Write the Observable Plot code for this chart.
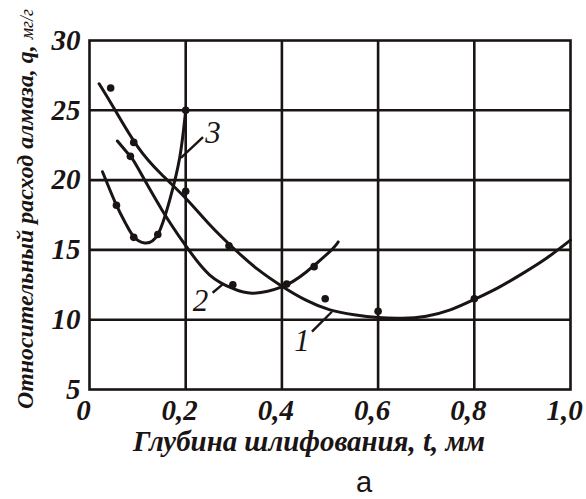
<!DOCTYPE html>
<html><head><meta charset="utf-8">
<script src="https://cdn.jsdelivr.net/npm/d3@7"></script>
<script src="https://cdn.jsdelivr.net/npm/@observablehq/plot@0.6"></script>
</head><body style="margin:0;background:#fff">
<div id="c" style="font-family:'Liberation Serif';font-weight:bold;font-style:italic"></div>
<script>
const curve1 = [[0.02,26.9],[0.05,25.2],[0.1,22.4],[0.15,20.4],[0.2,18.7],[0.25,16.8],[0.3,15.1],[0.35,13.6],[0.4,12.4],[0.45,11.4],[0.5,10.7],[0.55,10.35],[0.6,10.15],[0.65,10.1],[0.7,10.25],[0.75,10.7],[0.8,11.45],[0.85,12.3],[0.9,13.3],[0.95,14.4],[1.0,15.7]];
const curve2 = [[0.058,22.8],[0.085,21.7],[0.1,20.9],[0.15,17.9],[0.2,15.3],[0.25,13.2],[0.3,12.2],[0.34,11.9],[0.4,12.35],[0.45,13.4],[0.5,14.9],[0.517,15.57]];
const curve3 = [[0.027,20.6],[0.056,18.2],[0.075,16.9],[0.092,15.95],[0.115,15.5],[0.142,16.1],[0.167,18.6],[0.1875,21.6],[0.2,25.0]];
const dots1 = [[0.044,26.6],[0.092,22.7],[0.2,19.2],[0.29,15.3],[0.49,11.5],[0.6,10.6],[0.8,11.5]];
const dots2 = [[0.085,21.7],[0.298,12.5],[0.41,12.55],[0.467,13.8]];
const dots3 = [[0.056,18.2],[0.092,15.9],[0.142,16.1],[0.2,25.0]];
const curveLabels = [{t:"1",x:0.442,y:8.5},{t:"2",x:0.231,y:11.3},{t:"3",x:0.257,y:23.4}];
const leaders = [{x1:0.4625,y1:9.14,x2:0.504,y2:10.57},{x1:0.256,y1:11.93,x2:0.278,y2:12.57},{x1:0.19,y1:21.6,x2:0.236,y2:23.07}];
const xTicks = [0,0.2,0.4,0.6,0.8,1.0];
const yTicks = [5,10,15,20,25,30];
const xLabel = "Глубина шлифования, t, мм";
const yLabelMain = "Относительный расход алмаза, q, ";
const yLabelUnit = "мг/г";
const panelLetter = "а";

const SERIF = "Liberation Serif";
const SANS = "Liberation Sans";
const INK = "#1a1414";
const fmt = d => d === 0 ? "0" : d3.format(".1f")(d).replace(".", ",");
const toObj = a => a.map(([x,y]) => ({x,y}));

const plot = Plot.plot({
  width: 586, height: 499,
  marginLeft: 89, marginRight: 16, marginTop: 40, marginBottom: 110,
  style: {fontFamily: SERIF, background: "#fff"},
  x: {domain: [0,1], ticks: xTicks, label: null},
  y: {domain: [5,30], ticks: yTicks, label: null},
  marks: [
    Plot.gridX(xTicks.slice(1,-1), {stroke: INK, strokeOpacity: 1, strokeWidth: 2.6}),
    Plot.gridY(yTicks.slice(1,-1), {stroke: INK, strokeOpacity: 1, strokeWidth: 2.6}),
    Plot.frame({stroke: INK, strokeWidth: 2.6}),
    Plot.axisX({ticks: xTicks, tickSize: 0, tickPadding: 10, tickFormat: fmt, dx: -6,
      fontFamily: SERIF, fontSize: 29, fontWeight: "bold", fontStyle: "italic", fill: INK, label: null}),
    Plot.axisY({ticks: yTicks, tickSize: 0, tickPadding: 9, tickFormat: d => String(d),
      fontFamily: SERIF, fontSize: 29, fontWeight: "bold", fontStyle: "italic", fill: INK, label: null}),
    Plot.line(toObj(curve1), {x:"x", y:"y", curve:"natural", stroke: INK, strokeWidth:3}),
    Plot.line(toObj(curve2), {x:"x", y:"y", curve:"natural", stroke: INK, strokeWidth:3}),
    Plot.line(toObj(curve3), {x:"x", y:"y", curve:"natural", stroke: INK, strokeWidth:3}),
    Plot.dot(toObj([...dots1, ...dots2, ...dots3]), {x:"x", y:"y", r:3.8, fill: INK, stroke:"none"}),
    Plot.link(leaders, {x1:"x1", y1:"y1", x2:"x2", y2:"y2", stroke: INK, strokeWidth:2.4}),
    Plot.text(curveLabels, {x:"x", y:"y", text:"t", fontFamily: SERIF, fontSize: 31, fontStyle:"italic", fontWeight: "normal", fill: INK})
  ]
});
document.getElementById("c").appendChild(plot);

const svg = d3.select(plot);
// y-axis title
const yt = svg.append("text")
  .attr("transform", "translate(33,209) rotate(-90)")
  .attr("text-anchor", "middle")
  .attr("font-family", SERIF)
  .attr("fill", INK);
const ytMain = yt.append("tspan").attr("font-size", 24).attr("font-weight", "bold").attr("font-style", "italic").text(yLabelMain);
const ytUnit = yt.append("tspan").attr("font-size", 18).attr("font-weight", "normal").attr("font-style", "italic").text(yLabelUnit);
// x-axis title
const xt = svg.append("text")
  .attr("x", 309).attr("y", 451)
  .attr("text-anchor", "middle")
  .attr("font-family", SERIF)
  .attr("font-size", 26)
  .attr("font-weight", "bold").attr("font-style", "italic")
  .attr("fill", INK)
  .text(xLabel);
svg.selectAll("text").style("font-family", SERIF);

// fit title lengths to the reference spans
const yLen = yt.node().getComputedTextLength();
if (yLen > 0) {
  const k = Math.max(0.8, Math.min(1.4, 400 / yLen));
  ytMain.attr("font-size", 24 * k);
  ytUnit.attr("font-size", 18 * k);
}
const xLen = xt.node().getComputedTextLength();
if (xLen > 0) {
  const k = Math.max(0.8, Math.min(1.25, 352 / xLen));
  xt.attr("font-size", 26 * k);
}

// panel letter inside the SVG
svg.append("text")
  .attr("x", 364).attr("y", 492)
  .attr("text-anchor", "middle")
  .attr("font-size", 29)
  .attr("font-weight", "normal").attr("font-style", "normal")
  .attr("fill", INK)
  .attr("font-family", SANS)
  .style("font-family", SANS)
  .text(panelLetter);
</script>
</body></html>
